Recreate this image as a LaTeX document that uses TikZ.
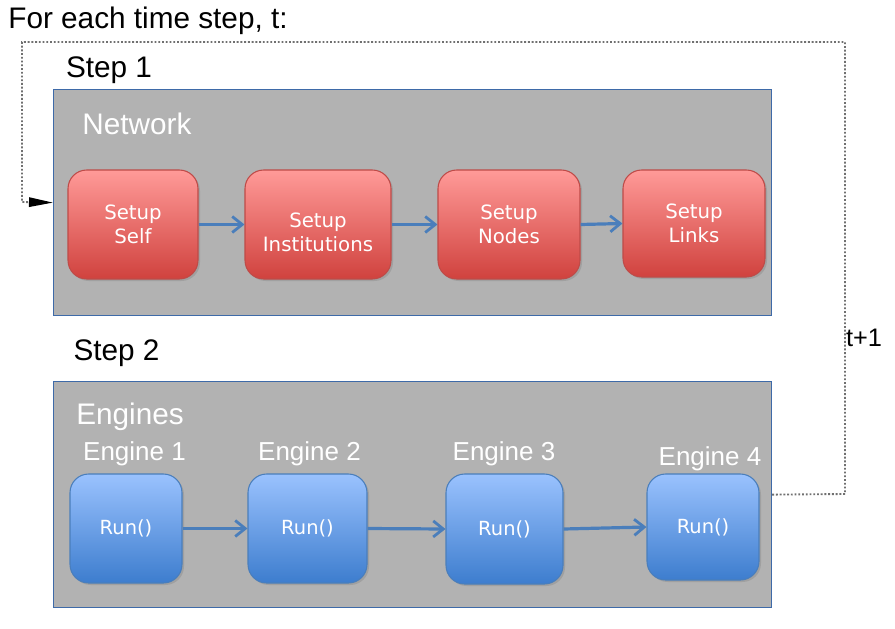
\documentclass[tikz,border=0pt]{standalone}
\usepackage{fontspec}
\setmainfont{Liberation Sans}
\newfontfamily\dejavu{DejaVu Sans}
\usetikzlibrary{arrows.meta,shadows}
\definecolor{panelgray}{HTML}{B2B2B2}
\definecolor{panelborder}{HTML}{3E6AA8}
\definecolor{redtop}{HTML}{FF9A98}
\definecolor{redbot}{HTML}{D0423E}
\definecolor{redline}{HTML}{BE4B48}
\definecolor{bluetop}{HTML}{9AC2FE}
\definecolor{bluebot}{HTML}{3D7DCE}
\definecolor{blueline}{HTML}{4A7EBB}
\definecolor{flowblue}{HTML}{4A7EBB}
\definecolor{loopgray}{HTML}{707070}
\tikzset{
  panel/.style={draw=panelborder, line width=0.9pt, fill=panelgray, anchor=north west, inner sep=0pt},
  heading/.style={font=\fontsize{22.3}{26}\selectfont, inner sep=0pt},
  whitehead/.style={font=\fontsize{22.3}{26}\selectfont, text=white, inner sep=0pt},
  enginelabel/.style={font=\fontsize{19.5}{23}\selectfont, text=white, inner sep=0pt},
  redbox/.style={draw=redline, line width=0.8pt, rounded corners=14pt, top color=redtop, bottom color=redbot,
    text=white, align=center, font=\dejavu\fontsize{14.8}{18}\selectfont,
    drop shadow={opacity=0.35, shadow xshift=1.5pt, shadow yshift=-1.5pt}},
  bluebox/.style={draw=blueline, line width=0.8pt, rounded corners=14pt, top color=bluetop, bottom color=bluebot,
    text=white, align=center, font=\dejavu\fontsize{14.6}{18}\selectfont,
    drop shadow={opacity=0.35, shadow xshift=1.5pt, shadow yshift=-1.5pt}},
  flow/.style={draw=flowblue, line width=2.4pt, -{Straight Barb[length=7.5pt,width=12pt,line width=2.1pt]}},
  loop/.style={draw=loopgray, line width=1.4pt, dash pattern=on 1.4pt off 1.4pt,
    -{Triangle[length=18pt,width=7pt,fill=black,color=black]}},
}
\begin{document}
\begin{tikzpicture}[x=0.75pt,y=-0.75pt]
\useasboundingbox (0,0) rectangle (895,628);

% titles
\node[heading] (title) at (148,21) {For each time step, t:};
\node[heading] (step1) at (109,70) {Step 1};
\node[heading] (step2) at (116.5,353) {Step 2};

% panels
\node[panel, minimum width=538.5pt, minimum height=169.5pt] (panel1) at (53,89) {};
\node[panel, minimum width=538.5pt, minimum height=169.5pt] (panel2) at (53,381) {};

\node[whitehead] (network) at (137,124) {Network};
\node[whitehead] (engines) at (130,417) {Engines};

% red boxes
\node[redbox, minimum width=97.5pt, minimum height=81.75pt] (self) at (133,224.5) {Setup\\Self};
\node[redbox, minimum width=109.5pt, minimum height=81.75pt] (inst) at (318,224.5) {\rule{0pt}{23pt}Setup\\Institutions};
\node[redbox, minimum width=106.5pt, minimum height=81.75pt] (nodes) at (509,224.5) {Setup\\Nodes};
\node[redbox, minimum width=106.5pt, minimum height=80.25pt] (links) at (694,223.5) {Setup\\Links};

% engine labels
\node[enginelabel] (el1) at (134.5,453.5) {Engine 1};
\node[enginelabel] (el2) at (309.5,453.5) {Engine 2};
\node[enginelabel] (el3) at (504,453.5) {Engine 3};
\node[enginelabel] (el4) at (710,458.5) {Engine 4};

% blue boxes
\node[bluebox, minimum width=84pt, minimum height=81.75pt] (e1) at (126,528.5) {Run()};
\node[bluebox, minimum width=89.25pt, minimum height=81.75pt] (e2) at (307.5,528.5) {Run()};
\node[bluebox, minimum width=87.75pt, minimum height=82.5pt] (e3) at (504.5,529) {Run()};
\node[bluebox, minimum width=84pt, minimum height=79.5pt] (e4) at (703,527) {Run()};

% flow arrows
\draw[flow] (self.east) -- (inst.west);
\draw[flow] (inst.east) -- (nodes.west);
\draw[flow] (nodes.east) -- (links.west);
\draw[flow] (e1.east) -- (e2.west);
\draw[flow] (e2.east) -- (e3.west);
\draw[flow] (e3.east) -- (e4.west);

% loop
\coordinate (lr) at (845,494);
\coordinate (ur) at (845,42);
\coordinate (ul) at (22,42);
\coordinate (ll) at (22,202);
\draw[loop] (panel2.east) -- (lr) -- (ur) -- (ul) -- (ll) -- (panel1.west);
\node[font=\fontsize{19}{22}\selectfont, inner sep=0pt] (tplus) at (864,338) {t+1};
\end{tikzpicture}
\end{document}
